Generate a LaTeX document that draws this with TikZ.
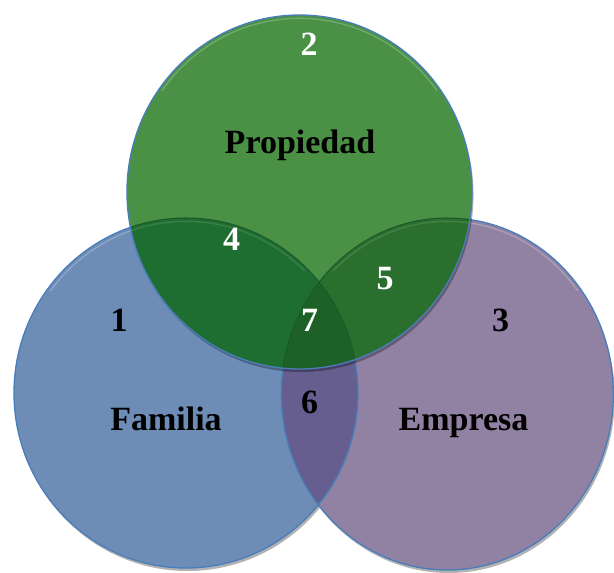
\documentclass[tikz,border=0pt]{standalone}
\usepackage{fontspec}
\setmainfont{Liberation Serif}
\begin{document}
\begin{tikzpicture}[x=0.75pt,y=-0.75pt]
\definecolor{cgreen}{HTML}{4A9146}
\definecolor{cblue}{HTML}{6E8DB6}
\definecolor{cpurple}{HTML}{9182A3}
\definecolor{cfour}{HTML}{1F6E31}
\definecolor{cfive}{HTML}{2B6F2F}
\definecolor{cseven}{HTML}{1D6127}
\definecolor{csix}{HTML}{655E8E}
\definecolor{cedge}{HTML}{4A7EBB}
\definecolor{cdkedge}{HTML}{1A5A2A}
\tikzset{
  lbl/.style={font=\fontsize{25.5}{30}\selectfont\bfseries, anchor=base, inner sep=0pt, text=black},
  wlbl/.style={lbl, text=white},
  edge/.style={draw=cedge, line width=1pt},
  shade/.style={fill=black, opacity=0.3},
  hilite/.style={draw=white, opacity=0.22, line width=1pt}
}
\useasboundingbox (0,0) rectangle (614,572);
\coordinate (cb) at (186,393);
\coordinate (cp) at (447.3,394);
\coordinate (cg) at (299.5,192);
% shadows of lower circles
\fill[shade] ([shift={(1.5,3)}]cb) ellipse [x radius=129pt, y radius=131.25pt];
\fill[shade] ([shift={(1.5,3)}]cp) ellipse [x radius=124.5pt, y radius=132pt];
% base fills
\fill[cblue] (cb) ellipse [x radius=129pt, y radius=131.25pt];
\fill[cpurple] (cp) ellipse [x radius=124.5pt, y radius=132pt];
\begin{scope}
  \clip (cb) ellipse [x radius=129pt, y radius=131.25pt];
  \fill[csix] (cp) ellipse [x radius=124.5pt, y radius=132pt];
\end{scope}
% highlights
\begin{scope}
  \clip (0,0) rectangle (614,290);
  \draw[hilite] (cb) ellipse [x radius=126.5pt, y radius=128.75pt];
  \draw[hilite] (cp) ellipse [x radius=122pt, y radius=129.5pt];
\end{scope}
\draw[edge] (cb) ellipse [x radius=129pt, y radius=131.25pt];
\draw[edge] (cp) ellipse [x radius=124.5pt, y radius=132pt];
% green shadow and fills
\fill[shade] ([shift={(1.5,3)}]cg) ellipse [x radius=129.4pt, y radius=132.75pt];
\fill[cgreen] (cg) ellipse [x radius=129.4pt, y radius=132.75pt];
\begin{scope}
  \clip (cg) ellipse [x radius=129.4pt, y radius=132.75pt];
  \fill[cfour] (cb) ellipse [x radius=129pt, y radius=131.25pt];
  \fill[cfive] (cp) ellipse [x radius=124.5pt, y radius=132pt];
  \begin{scope}
    \clip (cb) ellipse [x radius=129pt, y radius=131.25pt];
    \fill[cseven] (cp) ellipse [x radius=124.5pt, y radius=132pt];
  \end{scope}
  \begin{scope}
    \clip (0,0) rectangle (614,270);
    \draw[hilite, opacity=0.12] (cb) ellipse [x radius=126.5pt, y radius=128.75pt];
    \draw[hilite, opacity=0.12] (cp) ellipse [x radius=122pt, y radius=129.5pt];
  \end{scope}
  \draw[draw=cdkedge, line width=0.8pt] (cb) ellipse [x radius=129pt, y radius=131.25pt];
  \draw[draw=cdkedge, line width=0.8pt] (cp) ellipse [x radius=124.5pt, y radius=132pt];
\end{scope}
\begin{scope}
  \clip (0,0) rectangle (614,90);
  \draw[hilite] (cg) ellipse [x radius=127pt, y radius=130.25pt];
\end{scope}
\draw[edge] (cg) ellipse [x radius=129.4pt, y radius=132.75pt];
% labels
\node[lbl] (prop) at (300,153.3) {Propiedad};
\node[lbl] (fam) at (166,430) {Familia};
\node[lbl] (emp) at (463.5,430) {Empresa};
\node[wlbl] (n2) at (309,55) {2};
\node[lbl] (n1) at (119,331.7) {1};
\node[lbl] (n3) at (500.5,331.7) {3};
\node[wlbl] (n4) at (231.7,250) {4};
\node[wlbl] (n5) at (385,289.3) {5};
\node[lbl] (n6) at (309.5,413.3) {6};
\node[wlbl] (n7) at (309.5,331.7) {7};
\end{tikzpicture}
\end{document}
